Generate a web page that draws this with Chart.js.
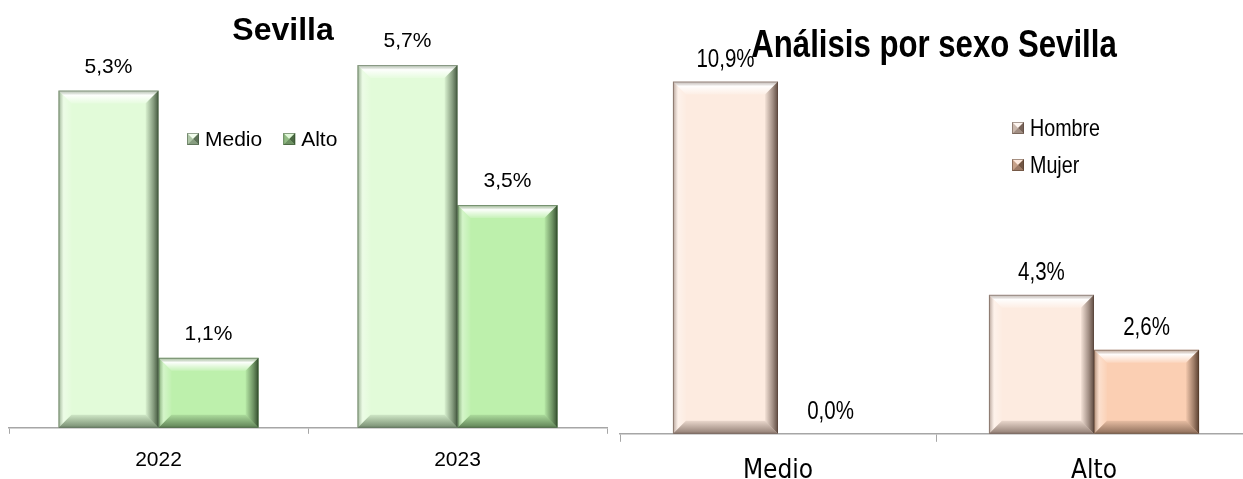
<!DOCTYPE html>
<html lang="es">
<head>
<meta charset="utf-8">
<title>Sevilla</title>
<script src="https://cdn.jsdelivr.net/npm/chart.js@4/dist/chart.umd.min.js"></script>
<style>
  html, body { margin: 0; padding: 0; background: #fff; width: 1243px; height: 479px; overflow: hidden; }
  .caja { position: absolute; top: 0; }
  #caja-anio { left: 0; width: 620px; height: 500px; }
  #caja-sexo { left: 610px; width: 650px; height: 505px; }
</style>
</head>
<body>
<div class="caja" id="caja-anio"><canvas id="chart-anio"></canvas></div>
<div class="caja" id="caja-sexo"><canvas id="chart-sexo"></canvas></div>
<script>
/*
 * Dos gráficas de barras: nivel Medio/Alto por año en Sevilla
 * y el análisis por sexo. Barras con biselado estilo Excel.
 */

const ANIOS        = ['2022', '2023'];
const MEDIO        = [5.3, 5.7];
const ALTO         = [1.1, 3.5];

const NIVELES      = ['Medio', 'Alto'];
const HOMBRE       = [10.9, 4.3];
const MUJER        = [0.0, 2.6];

const FUENTE       = "'Liberation Sans', Arial, sans-serif";
const FUENTE_COND  = "'DejaVu Sans Condensed', 'Liberation Sans', sans-serif";

function _fmt(v) {
  return v.toFixed(1).replace('.', ',') + '%';
}

// texto con compresión horizontal (imita la fuente "Narrow")
function _texto(ctx, txt, x, y, sq) {
  ctx.save();
  ctx.translate(x, y);
  ctx.scale(sq, 1);
  ctx.fillText(txt, 0, 0);
  ctx.restore();
}

// Bisel: banda clara arriba, oscura a la derecha y abajo
const bevelPlugin = {
  id: 'bevel',
  afterDatasetsDraw(chart, args, opts) {
    const ctx = chart.ctx;
    chart.data.datasets.forEach((ds, i) => {
      const meta = chart.getDatasetMeta(i);
      const tono = ds.bevelDark;
      meta.data.forEach(bar => {
        const p  = bar.getProps(['x', 'y', 'base', 'width'], true);
        const x0 = p.x - p.width / 2, x1 = p.x + p.width / 2;
        const y0 = Math.min(p.y, p.base), y1 = Math.max(p.y, p.base);
        const h  = y1 - y0;
        if (h < 1) return;
        const b = Math.min(opts.size, h / 3, p.width / 4);
        ctx.save();

        // arriba
        let g = ctx.createLinearGradient(0, y0, 0, y0 + b);
        g.addColorStop(0, 'rgba(150,150,150,0.45)');
        g.addColorStop(0.35, 'rgba(255,255,255,0.95)');
        g.addColorStop(1, 'rgba(255,255,255,0.15)');
        ctx.fillStyle = g;
        ctx.beginPath();
        ctx.moveTo(x0, y0); ctx.lineTo(x1, y0); ctx.lineTo(x1 - b, y0 + b); ctx.lineTo(x0 + b, y0 + b);
        ctx.closePath(); ctx.fill();

        // izquierda
        g = ctx.createLinearGradient(x0, 0, x0 + b, 0);
        g.addColorStop(0, `rgba(${tono},0.45)`);
        g.addColorStop(0.4, 'rgba(255,255,255,0.35)');
        g.addColorStop(1, 'rgba(255,255,255,0.05)');
        ctx.fillStyle = g;
        ctx.beginPath();
        ctx.moveTo(x0, y0); ctx.lineTo(x0 + b, y0 + b); ctx.lineTo(x0 + b, y1 - b); ctx.lineTo(x0, y1);
        ctx.closePath(); ctx.fill();

        // derecha
        g = ctx.createLinearGradient(x1 - b, 0, x1, 0);
        g.addColorStop(0, `rgba(${tono},0.05)`);
        g.addColorStop(0.6, `rgba(${tono},0.55)`);
        g.addColorStop(1, `rgba(${tono},0.95)`);
        ctx.fillStyle = g;
        ctx.beginPath();
        ctx.moveTo(x1, y0); ctx.lineTo(x1, y1); ctx.lineTo(x1 - b, y1 - b); ctx.lineTo(x1 - b, y0 + b);
        ctx.closePath(); ctx.fill();

        // abajo
        g = ctx.createLinearGradient(0, y1 - b, 0, y1);
        g.addColorStop(0, `rgba(${tono},0.12)`);
        g.addColorStop(1, `rgba(${tono},0.65)`);
        ctx.fillStyle = g;
        ctx.beginPath();
        ctx.moveTo(x0, y1); ctx.lineTo(x1, y1); ctx.lineTo(x1 - b, y1 - b); ctx.lineTo(x0 + b, y1 - b);
        ctx.closePath(); ctx.fill();

        ctx.strokeStyle = `rgba(${tono},0.45)`;
        ctx.lineWidth = 1;
        ctx.strokeRect(x0 + 0.5, y0 + 0.5, p.width - 1, h - 1);
        ctx.restore();
      });
    });
  },
};

// Etiquetas de valor encima de cada barra
const etiquetasPlugin = {
  id: 'etiquetas',
  afterDatasetsDraw(chart, args, opts) {
    const ctx = chart.ctx;
    ctx.save();
    ctx.font = opts.font;
    ctx.fillStyle = '#000';
    ctx.textAlign = 'center';
    ctx.textBaseline = 'alphabetic';
    chart.data.datasets.forEach((ds, i) => {
      chart.getDatasetMeta(i).data.forEach((bar, j) => {
        _texto(ctx, _fmt(ds.data[j]), bar.x, bar.y - opts.offset, opts.squeeze);
      });
    });
    ctx.restore();
  },
};

// Título y leyenda dibujados sobre el área (como en Excel)
function _marcador(ctx, x, y, s, color, tono) {
  const cx = x + s / 2, cy = y + s / 2;
  const tri = (pts, fill) => {
    ctx.fillStyle = fill;
    ctx.beginPath();
    ctx.moveTo(pts[0], pts[1]); ctx.lineTo(pts[2], pts[3]); ctx.lineTo(pts[4], pts[5]);
    ctx.closePath(); ctx.fill();
  };
  ctx.fillStyle = color;
  ctx.fillRect(x, y, s, s);
  tri([x, y, x + s, y, cx, cy], 'rgba(255,255,255,0.55)');
  tri([x, y, cx, cy, x, y + s], `rgba(${tono},0.3)`);
  tri([x + s, y, x + s, y + s, cx, cy], `rgba(${tono},0.8)`);
  tri([x, y + s, x + s, y + s, cx, cy], `rgba(${tono},0.55)`);
  ctx.strokeStyle = `rgba(${tono},0.5)`;
  ctx.lineWidth = 1;
  ctx.strokeRect(x + 0.5, y + 0.5, s - 1, s - 1);
}

const rotulosPlugin = {
  id: 'rotulos',
  afterDraw(chart, args, opts) {
    const ctx = chart.ctx;
    const sq = opts.squeeze;
    ctx.save();
    ctx.fillStyle = '#000';
    ctx.textBaseline = 'middle';
    ctx.textAlign = 'left';
    ctx.font = opts.legendFont;
    let x = opts.legendX, y = opts.legendY;
    chart.data.datasets.forEach(ds => {
      _marcador(ctx, x, y - 6, 12, ds.backgroundColor, ds.bevelDark);
      ctx.fillStyle = '#000';
      _texto(ctx, ds.label, x + 18, y + 1, sq);
      if (opts.vertical) {
        y += opts.legendGap;
      } else {
        x += 18 + ctx.measureText(ds.label).width * sq + opts.legendGap;
      }
    });
    ctx.font = opts.titleFont;
    ctx.textAlign = 'center';
    ctx.textBaseline = 'alphabetic';
    _texto(ctx, opts.title, opts.titleX, opts.titleY, sq);
    ctx.restore();
  },
};

function _ejeX(fuente, size, tickLen, pad) {
  return {
    grid:   { display: true, drawOnChartArea: false, drawTicks: true, tickLength: tickLen, color: '#a6a6a6', offset: true },
    border: { display: true, color: '#a6a6a6', width: 1.5 },
    ticks:  { color: '#000', padding: pad, font: { family: fuente, size } },
  };
}

new Chart(document.getElementById('chart-anio'), {
  type: 'bar',
  data: {
    labels: ANIOS,
    datasets: [
      { label: 'Medio', data: MEDIO, backgroundColor: '#e2fbd9', bevelDark: '60,80,55' },
      { label: 'Alto',  data: ALTO,  backgroundColor: '#bdf0ac', bevelDark: '45,70,40' },
    ],
  },
  options: {
    animation: false,
    responsive: true,
    maintainAspectRatio: false,
    datasets: { bar: { barPercentage: 1, categoryPercentage: 0.669, borderWidth: 0 } },
    layout: { padding: { left: 9, right: 13, top: 46, bottom: 13 } },
    plugins: {
      legend: { display: false },
      tooltip: { enabled: false },
      bevel: { size: 13 },
      etiquetas: { font: `21px ${FUENTE}`, offset: 18, squeeze: 1 },
      rotulos: {
        title: 'Sevilla', titleFont: `bold 32px ${FUENTE}`, titleX: 283, titleY: 40, squeeze: 1,
        legendFont: `21px ${FUENTE}`, legendX: 187, legendY: 139, legendGap: 21, vertical: false,
      },
    },
    scales: {
      x: _ejeX(FUENTE, 21, 6, 14),
      y: { display: false, min: 0, max: 6 },
    },
  },
  plugins: [bevelPlugin, etiquetasPlugin, rotulosPlugin],
});

new Chart(document.getElementById('chart-sexo'), {
  type: 'bar',
  data: {
    labels: NIVELES,
    datasets: [
      { label: 'Hombre', data: HOMBRE, backgroundColor: '#fdebe0', bevelDark: '85,65,55' },
      { label: 'Mujer',  data: MUJER,  backgroundColor: '#fbcfb3', bevelDark: '80,55,40' },
    ],
  },
  options: {
    animation: false,
    responsive: true,
    maintainAspectRatio: false,
    datasets: { bar: { barPercentage: 1, categoryPercentage: 0.665, borderWidth: 0 } },
    layout: { padding: { left: 10, right: 8, top: 46, bottom: 4 } },
    plugins: {
      legend: { display: false },
      tooltip: { enabled: false },
      bevel: { size: 13 },
      etiquetas: { font: `25px ${FUENTE}`, offset: 15, squeeze: 0.82 },
      rotulos: {
        title: 'Análisis por sexo Sevilla', titleFont: `bold 38px ${FUENTE}`, titleX: 324, titleY: 57, squeeze: 0.82,
        legendFont: `24px ${FUENTE}`, legendX: 402, legendY: 128, legendGap: 37, vertical: true,
      },
    },
    scales: {
      x: _ejeX(FUENTE_COND, 26, 8, 14),
      y: { display: false, min: 0, max: 12 },
    },
  },
  plugins: [bevelPlugin, etiquetasPlugin, rotulosPlugin],
});
</script>
</body>
</html>
